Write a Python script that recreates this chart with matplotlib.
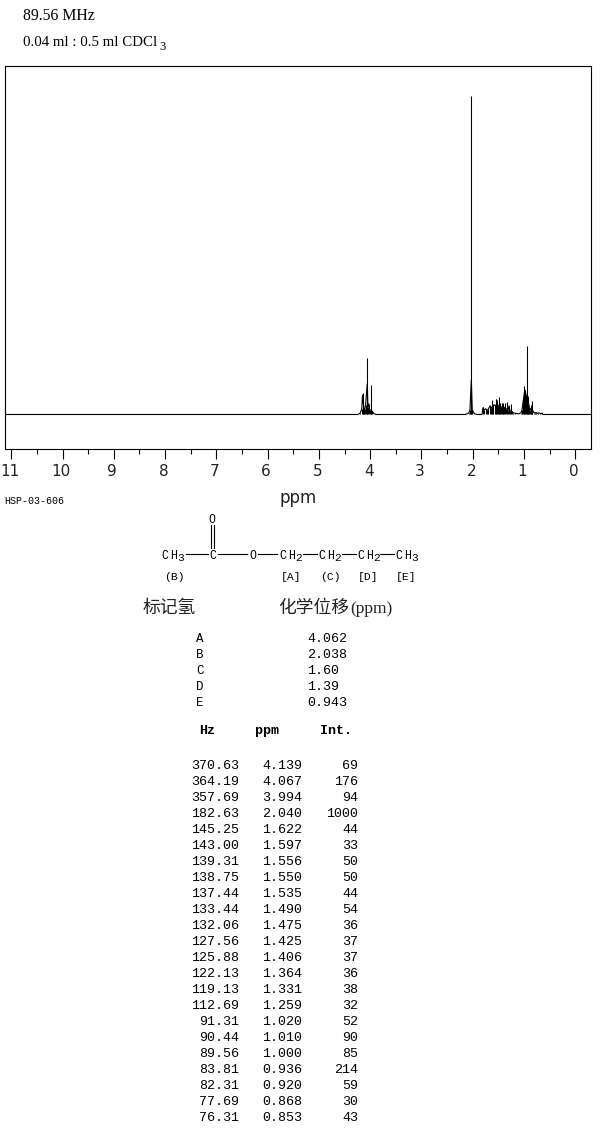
"""
plot.py
-------
1H NMR spectrum of butyl acetate with structure and peak table.
"""

import matplotlib
matplotlib.use("Agg")
import matplotlib.pyplot as plt
from matplotlib.ticker import MultipleLocator
from matplotlib.transforms import ScaledTranslation

# ── Data ──────────────────────────────────────────────────────────────────────
PEAK_HZ = ["370.63", "364.19", "357.69", "182.63", "145.25", "143.00", "139.31", "138.75",
           "137.44", "133.44", "132.06", "127.56", "125.88", "122.13", "119.13", "112.69",
           "91.31", "90.44", "89.56", "83.81", "82.31", "77.69", "76.31"]
PEAK_PPM = [4.139, 4.067, 3.994, 2.040, 1.622, 1.597, 1.556, 1.550,
            1.535, 1.490, 1.475, 1.425, 1.406, 1.364, 1.331, 1.259,
            1.020, 1.010, 1.000, 0.936, 0.920, 0.868, 0.853]
PEAK_INT = [69, 176, 94, 1000, 44, 33, 50, 50,
            44, 54, 36, 37, 37, 36, 38, 32,
            52, 90, 85, 214, 59, 30, 43]

# valleys and shoulders, the listed peaks stand on top of them
TRACE_PPM = [11.12, 4.24, 4.20, 4.165, 4.15, 4.125, 4.105, 4.09, 4.058, 4.045, 4.03, 4.012, 3.98, 3.96, 3.93, 3.89,
             2.15, 2.08, 2.055, 2.028, 2.01, 1.97, 1.92,
             1.82, 1.80, 1.78, 1.75, 1.72, 1.70, 1.66, 1.64, 1.61, 1.575, 1.51, 1.482, 1.45, 1.415,
             1.385, 1.347, 1.31, 1.29, 1.275, 1.24, 1.22, 1.18, 1.10, 1.06, 1.04,
             0.985, 0.96, 0.945, 0.928, 0.895, 0.88, 0.86, 0.835, 0.81, 0.79, 0.76, 0.74, 0.72, 0.69, 0.66, 0.645, 0.63,
             -0.31]
TRACE_INT = [0, 0, 4, 16, 62, 20, 16, 30, 97, 24, 34, 14, 14, 10, 3, 0,
             0, 4, 14, 110, 14, 3, 0,
             0, 22, 14, 18, 14, 16, 28, 20, 26, 30, 26, 30, 24, 22,
             22, 18, 14, 28, 12, 10, 6, 4, 2, 6, 14,
             78, 62, 40, 50, 20, 14, 20, 14, 6, 5, 6, 3, 5, 4, 2, 5, 0,
             0]

XTICKS = list(range(0, 12))

SHIFT_LABELS = ["A", "B", "C", "D", "E"]
SHIFT_VALUES = ["4.062", "2.038", "1.60", "1.39", "0.943"]

MONO = "Liberation Mono"
SERIF = "Liberation Serif"
SANS = "DejaVu Sans"
CJK = ["Noto Sans CJK SC", "DejaVu Sans"]
W, H = 609, 1134

fig = plt.figure(figsize=(W / 100, H / 100), dpi=100, facecolor="white")

# page axes in pixel coordinates, used for everything around the spectrum
page = fig.add_axes([0, 0, 1, 1])
page.set_xlim(0, W)
page.set_ylim(H, 0)
page.axis("off")

# ── Spectrum ──────────────────────────────────────────────────────────────────
ax = fig.add_axes([5.0 / W, 1 - 449 / H, 586 / W, 383 / H])
ax.patch.set_alpha(0)
ax.plot(TRACE_PPM, TRACE_INT, color="black", lw=0.8, solid_joinstyle="miter")
# vlines snap to the pixel grid, which keeps the spikes as crisp as the original
ax.vlines(TRACE_PPM, 0, TRACE_INT, color="black", lw=0.75)
ax.vlines(PEAK_PPM, 0, PEAK_INT, color="black", lw=0.75)
ax.set_xlim(11.123, -0.306)
ax.set_ylim(-108.5, 1095.5)
ax.set_yticks([])
ax.set_xticks(XTICKS)
ax.xaxis.set_minor_locator(MultipleLocator(0.5))
ax.tick_params(axis="x", which="major", length=7.2, width=0.8, pad=3.5,
               labelsize=11, labelcolor="#222222")
ax.tick_params(axis="x", which="minor", length=3.6, width=0.8)
shift = ScaledTranslation(-1.5 / 100, 0, fig.dpi_scale_trans)
for lab in ax.get_xticklabels():
    lab.set_transform(lab.get_transform() + shift)
for sp in ax.spines.values():
    sp.set_linewidth(0.8)

# ── Header / footer of the plot ───────────────────────────────────────────────
page.text(23, 16, "89.56 MHz", family=SERIF, fontsize=11.3, va="center")
page.text(23, 43, "0.04 ml : 0.5 ml CDCl", family=SERIF, fontsize=10.7, va="center")
page.text(159, 47, "3", family=SERIF, fontsize=9, va="center")
page.text(4, 501, "HSP-03-606", family=MONO, fontsize=7.2, va="center")
page.text(298, 498, "ppm", family=SANS, fontsize=12, va="center", ha="center", color="#222222")


# ── Structure ─────────────────────────────────────────────────────────────────
def formula(x, letters, sub=None):
    for k, ch in enumerate(letters):
        page.text(x + 9.5 * k, 556, ch, family=MONO, fontsize=8.4, va="center")
    if sub:
        page.text(x + 16.5, 558, sub, family=MONO, fontsize=8.0, va="center")


formula(161, "CH", "3")
formula(209, "C")
formula(249, "O")
formula(279, "CH", "2")
formula(318, "CH", "2")
formula(357, "CH", "2")
formula(395, "CH", "3")
page.text(212, 520, "O", family=MONO, fontsize=8.4, va="center", ha="center")

for x0, x1 in [(186, 208), (218, 247), (258, 277), (303, 317), (342, 356), (380, 394)]:
    page.plot([x0, x1], [554, 554], color="black", lw=0.8)
for x0 in (211, 214):
    page.plot([x0, x0], [525, 548], color="black", lw=0.8)

for x0, txt in [(174, "(B)"), (291, "[A]"), (330, "(C)"), (368, "[D]"), (406, "[E]")]:
    page.text(x0, 577, txt, family=MONO, fontsize=8.2, va="center", ha="center")

page.text(143, 608, "标记氢", family=CJK, fontsize=12.8, va="center", color="#222222")
page.text(278, 608, "化学位移", family=CJK, fontsize=12.8, va="center", color="#222222")
page.text(350, 609, "(ppm)", family=SERIF, fontsize=12.6, va="center", color="#222222")

# ── Tables ────────────────────────────────────────────────────────────────────
for i, (lab, val) in enumerate(zip(SHIFT_LABELS, SHIFT_VALUES)):
    y = 639 + 16 * i
    page.text(196, y, lab, family=MONO, fontsize=9.0, va="center")
    page.text(307, y, val, family=MONO, fontsize=9.6, va="center")

page.text(199, 731, "Hz", family=MONO, fontsize=9.6, weight="bold", va="center")
page.text(255, 731, "ppm", family=MONO, fontsize=9.6, weight="bold", va="center")
page.text(320, 731, "Int.", family=MONO, fontsize=9.6, weight="bold", va="center")

for i, (hz, ppm, inten) in enumerate(zip(PEAK_HZ, PEAK_PPM, PEAK_INT)):
    y = 766 + 16 * i
    page.text(239, y, hz, family=MONO, fontsize=9.6, va="center", ha="right")
    page.text(302, y, f"{ppm:.3f}", family=MONO, fontsize=9.6, va="center", ha="right")
    page.text(358, y, str(inten), family=MONO, fontsize=9.6, va="center", ha="right")

fig.savefig("out.png", dpi=100, facecolor="white")
plt.close(fig)
